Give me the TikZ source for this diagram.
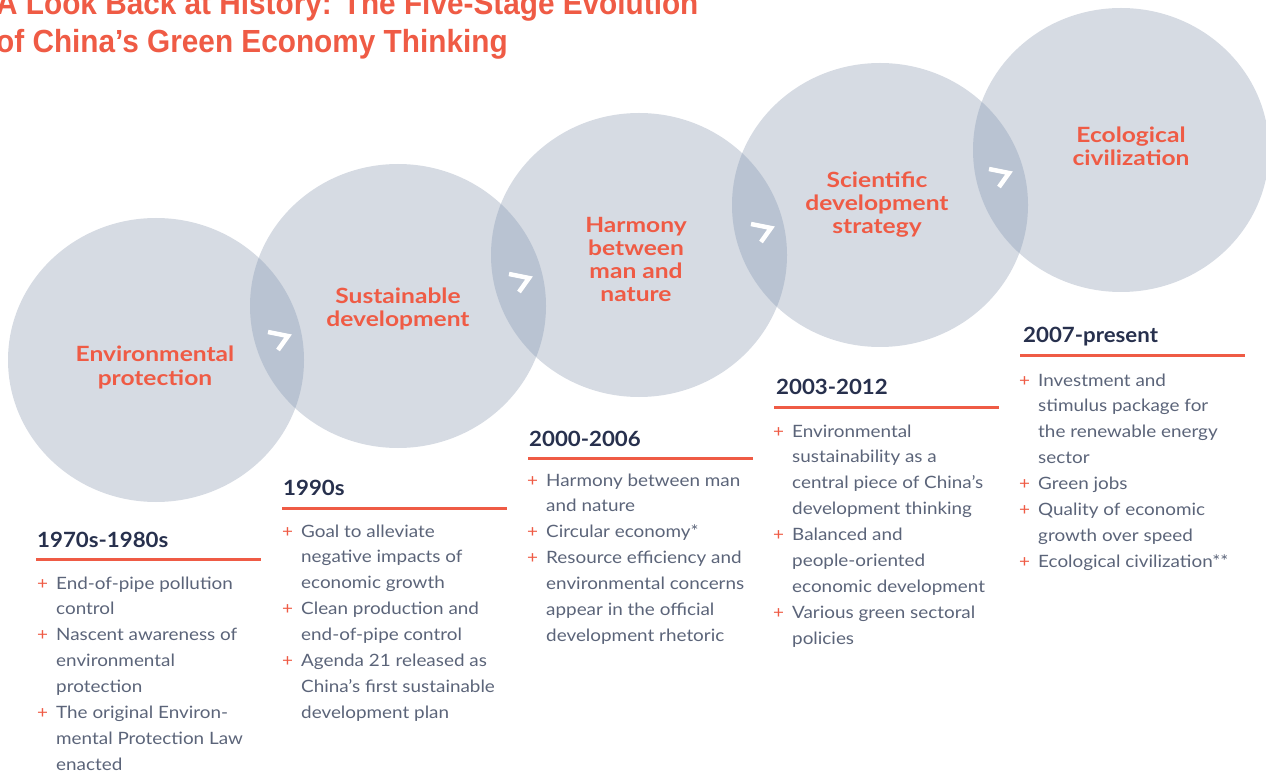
\documentclass[tikz,border=0pt]{standalone}
\usepackage{fontspec}
\setmainfont{Lato}
\newfontfamily\titlefont[FakeStretch=0.93]{Liberation Sans}
\newfontfamily\bodyfont[FakeStretch=1.11]{Lato}
\newfontfamily\stagefont[FakeStretch=1.17]{Lato}
\newfontfamily\headfont[FakeStretch=1.06]{Lato}
\definecolor{accent}{HTML}{EF5B45}
\definecolor{navy}{HTML}{27304D}
\definecolor{bodygray}{HTML}{5B6479}
\definecolor{circ}{HTML}{D6DBE3}
\definecolor{ovl}{HTML}{B9C3D2}
\newcommand\pl{\makebox[19pt][l]{\textcolor{accent}{+}}}
\newcommand\ind{\hspace*{19pt}}
\tikzset{
  title/.style={inner sep=0pt, text=accent, font=\titlefont\bfseries\fontsize{32}{38}\selectfont},
  stage/.style={inner sep=0pt, align=center, text=accent, font=\stagefont\bfseries\fontsize{21}{23.2}\selectfont},
  head/.style={inner sep=0pt, text=navy, font=\headfont\bfseries\fontsize{21}{24}\selectfont},
  body/.style={inner sep=0pt, align=left, text=bodygray, font=\bodyfont\fontsize{17}{25.9}\selectfont},
  rule/.style={draw=accent, line width=3pt},
  chev/.style={draw=white, line width=4.5pt, line join=miter},
}
\begin{document}
\begin{tikzpicture}[x=1pt,y=-1pt]
\useasboundingbox (0,0) rectangle (1266,775);
\clip (0,0) rectangle (1266,775);
% circles
\foreach \cx/\cy in {156/360,398/306,639/255,880/205,1121/150}
  \fill[circ] (\cx,\cy) ellipse [x radius=148, y radius=142];
% overlaps
\foreach \ax/\ay/\bx/\by in {156/360/398/306,398/306/639/255,639/255/880/205,880/205/1121/150}{
  \begin{scope}
    \clip (\ax,\ay) ellipse [x radius=148, y radius=142];
    \fill[ovl] (\bx,\by) ellipse [x radius=148, y radius=142];
  \end{scope}
}
% chevrons
\foreach \tx/\ty in {288/336,529/278,771/228,1009/173}
  \draw[chev] (\tx,\ty) ++(-20,-4) -- ++(20,4) -- ++(-10,14);
% title
\node[title, anchor=base west] (t1) at (-4,15) {A Look Back at History: The Five-Stage Evolution};
\node[title, anchor=base west] (t2) at (-4,53) {of China’s Green Economy Thinking};
% stage labels (anchor = baseline of last line)
\node[stage, anchor=base] (s1) at (155,385) {Environmental\\protection};
\node[stage, anchor=base] (s2) at (398,327) {Sustainable\\development};
\node[stage, anchor=base] (s3) at (636,302) {Harmony\\between\\man and\\nature};
\node[stage, anchor=base] (s4) at (877,234) {Scientific\\development\\strategy};
\node[stage, anchor=base] (s5) at (1131,166) {Ecological\\civilization};
% column 1
\node[head, anchor=base west] (h1) at (37,547) {1970s-1980s};
\draw[rule] (36,559) -- (261,559);
\node[body, anchor=base west] (b1) at (37,770.3) {\pl End-of-pipe pollution\\\ind control\\\pl Nascent awareness of\\\ind environmental\\\ind protection\\\pl The original Environ-\\\ind mental Protection Law\\\ind enacted};
% column 2
\node[head, anchor=base west] (h2) at (283,495) {1990s};
\draw[rule] (282,508) -- (507,508);
\node[body, anchor=base west] (b2) at (282,718.3) {\pl Goal to alleviate\\\ind negative impacts of\\\ind economic growth\\\pl Clean production and\\\ind end-of-pipe control\\\pl Agenda 21 released as\\\ind China’s first sustainable\\\ind development plan};
% column 3
\node[head, anchor=base west] (h3) at (529,446) {2000-2006};
\draw[rule] (528,458) -- (753,458);
\node[body, anchor=base west] (b3) at (527,641.4) {\pl Harmony between man\\\ind and nature\\\pl Circular economy*\\\pl Resource efficiency and\\\ind environmental concerns\\\ind appear in the official\\\ind development rhetoric};
% column 4
\node[head, anchor=base west] (h4) at (776,394) {2003-2012};
\draw[rule] (774,407) -- (999,407);
\node[body, anchor=base west] (b4) at (773,644.2) {\pl Environmental\\\ind sustainability as a\\\ind central piece of China’s\\\ind development thinking\\\pl Balanced and\\\ind people-oriented\\\ind economic development\\\pl Various green sectoral\\\ind policies};
% column 5
\node[head, anchor=base west] (h5) at (1023,343) {2007-present};
\draw[rule] (1020,356) -- (1245,356);
\node[body, anchor=base west] (b5) at (1019,567.3) {\pl Investment and\\\ind stimulus package for\\\ind the renewable energy\\\ind sector\\\pl Green jobs\\\pl Quality of economic\\\ind growth over speed\\\pl Ecological civilization**};
\end{tikzpicture}
\end{document}
